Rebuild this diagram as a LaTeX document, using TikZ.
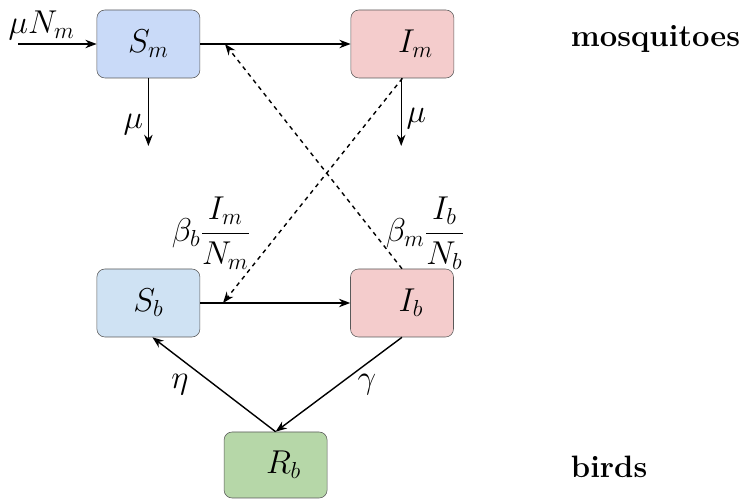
\RequirePackage{fix-cm}
\documentclass[tikz,border=0pt]{standalone}
\usepackage{amsmath,amssymb}
\usetikzlibrary{arrows.meta}

\definecolor{mosqS}{HTML}{C9DAF8}
\definecolor{mosqI}{HTML}{F4CCCC}
\definecolor{birdS}{HTML}{CFE2F3}
\definecolor{birdR}{HTML}{B6D7A8}

\begin{document}
\begin{tikzpicture}[font=\fontsize{23.5}{28}\selectfont,
  comp/.style={draw=black!65,rounded corners=0.2cm,minimum width=2.575cm,minimum height=1.7cm,inner sep=0pt},
  flow/.style={-{Stealth[length=8pt,width=6pt]},line width=1pt},
  infect/.style={flow,dashed}]
\useasboundingbox (0,0) rectangle (18.7,12.475);
% compartments
\node[comp,fill=mosqS] (Sm) at (3.71,11.375) {$S_m$};
\node[comp,fill=mosqI] (Im) at (10.06,11.375) {\hspace*{0.65cm}$I_m$};
\node[comp,fill=birdS] (Sb) at (3.71,4.9) {$S_b$};
\node[comp,fill=mosqI] (Ib) at (10.05,4.9) {\hspace*{0.45cm}$I_b$};
\node[comp,fill=birdR,minimum height=1.65cm] (Rb) at (6.89,0.85) {\hspace*{0.4cm}$R_b$};

% births and deaths
\coordinate (birth) at (0.45,11.375);
\coordinate (deathSm) at (3.71,8.825);
\coordinate (deathIm) at (10.03,8.825);
\draw[flow] (birth)--(Sm.west) node[pos=0.3,above=-1pt] (birthlab) {$\mu N_m$};
\draw[flow] (Sm.south)--(deathSm) node[pos=0.68,left] (muSm) {$\mu$};
\draw[flow] (Im.south-|deathIm)--(deathIm) node[pos=0.6,right] (muIm) {$\mu$};

% infection
\draw[flow] (Sm)--(Im);
\draw[flow] (Sb)--(Ib);
\coordinate (hitm) at (5.625,11.375);
\coordinate (hitb) at (5.575,4.9);
\draw[infect] (Ib.north)--(hitm);
\draw[infect] (Im.south)--(hitb);
\node (rateb) at (5.275,6.65) {$\beta_b\dfrac{I_m}{N_m}$};
\node (ratem) at (10.625,6.65) {$\beta_m\dfrac{I_b}{N_b}$};

% recovery and loss of immunity
\draw[flow] (Ib.south)--(Rb.north);
\draw[flow] (Rb.north)--([xshift=0.1cm]Sb.south);
\node (eta) at (4.5,2.85) {$\eta$};
\node (gam) at (9.175,2.85) {$\gamma$};

% groups
\node[font=\fontsize{22}{26}\selectfont\bfseries,anchor=base west] (mosq) at (14.15,11.3) {mosquitoes};
\node[font=\fontsize{22}{26}\selectfont\bfseries,anchor=base west] (birds) at (14.15,0.525) {birds};
\end{tikzpicture}
\end{document}
